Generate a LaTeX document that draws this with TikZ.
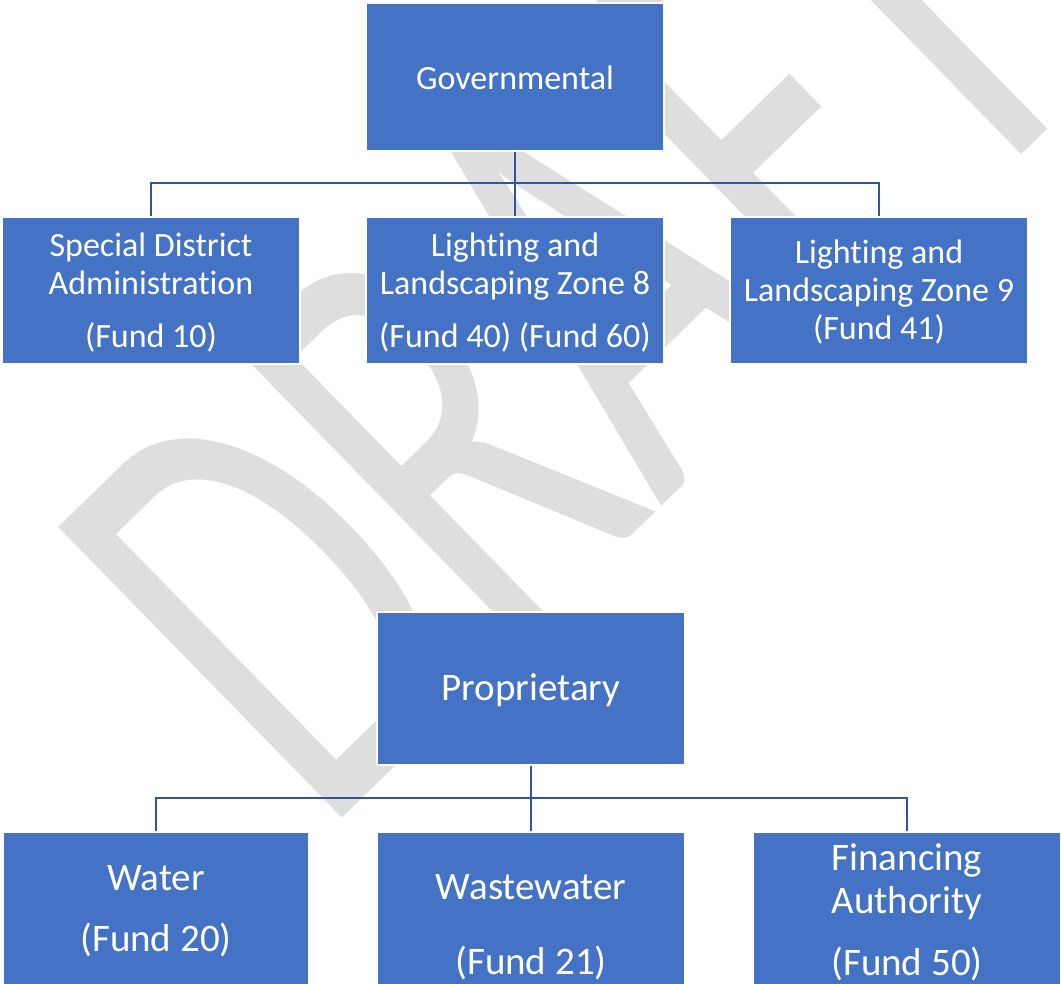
\documentclass[tikz,border=0pt]{standalone}
\usepackage{fontspec}
\setmainfont{Carlito}[Ligatures=CommonOff]
\usepackage{graphicx}
\definecolor{boxblue}{HTML}{4472C4}
\definecolor{linkblue}{HTML}{2F55A0}
\definecolor{wmgray}{HTML}{DEDEDE}
\tikzset{
  box/.style={rectangle, fill=boxblue, draw=white, line width=1.5pt, inner sep=0pt},
  toptxt/.style={text=white, align=center, inner sep=0pt, font=\fontsize{34}{38}\selectfont},
  bottxt/.style={text=white, align=center, inner sep=0pt, font=\fontsize{39}{43}\selectfont},
  link/.style={draw=linkblue, line width=2.4pt},
  wmark/.style={text=wmgray, inner sep=0pt, anchor=base west, rotate=44.3}
}
\begin{document}
\begin{tikzpicture}[x=1pt, y=-1pt]
\useasboundingbox (0,0) rectangle (1061,984);
\clip (0,0) rectangle (1061,984);
\fill[white] (0,0) rectangle (1061,984);
% watermark
\node[wmark] (draft) at (322,838) {\scalebox{0.645}[1]{\fontsize{633}{633}\selectfont DRAFT}};
% boxes - governmental
\node[box, minimum width=298pt, minimum height=148pt] (gov) at (515,77) {};
\node[box, minimum width=298pt, minimum height=147pt] (sda) at (151,290.5) {};
\node[box, minimum width=298pt, minimum height=147pt] (llz8) at (515,290.5) {};
\node[box, minimum width=298pt, minimum height=147pt] (llz9) at (879,290.5) {};
% boxes - proprietary
\node[box, minimum width=308pt, minimum height=153pt] (prop) at (531,688.5) {};
\node[box, minimum width=306pt, minimum height=155pt] (water) at (156,909.5) {};
\node[box, minimum width=308pt, minimum height=155pt] (ww) at (531,909.5) {};
\node[box, minimum width=308pt, minimum height=155pt] (fin) at (907,909.5) {};
% texts
\node[toptxt] (govT) at (515,77.5) {Governmental};
\node[toptxt] (sdaT) at (151,292.5) {Special District\\Administration\\[15pt](Fund 10)};
\node[toptxt] (llz8T) at (515,292.5) {Lighting and\\Landscaping Zone 8\\[15pt](Fund 40) (Fund 60)};
\node[toptxt] (llz9T) at (879,292) {Lighting and\\Landscaping Zone 9\\(Fund 41)};
\node[bottxt] (propT) at (531,690) {Proprietary};
\node[bottxt] (waterT) at (156,911) {Water\\[18pt](Fund 20)};
\node[bottxt] (wwT) at (531,927.5) {Wastewater\\[32pt](Fund 21)};
\node[bottxt] (finT) at (907,912.5) {Financing\\Authority\\[19pt](Fund 50)};
% connectors
\coordinate (gbus) at (515,183);
\coordinate (pbus) at (531,798);
\draw[link] (gov.south) -- (gbus);
\draw[link] (sda.north) |- (gbus) -| (llz9.north);
\draw[link] (gbus) -- (llz8.north);
\draw[link] (prop.south) -- (pbus);
\draw[link] (water.north) |- (pbus) -| (fin.north);
\draw[link] (pbus) -- (ww.north);
\end{tikzpicture}
\end{document}
